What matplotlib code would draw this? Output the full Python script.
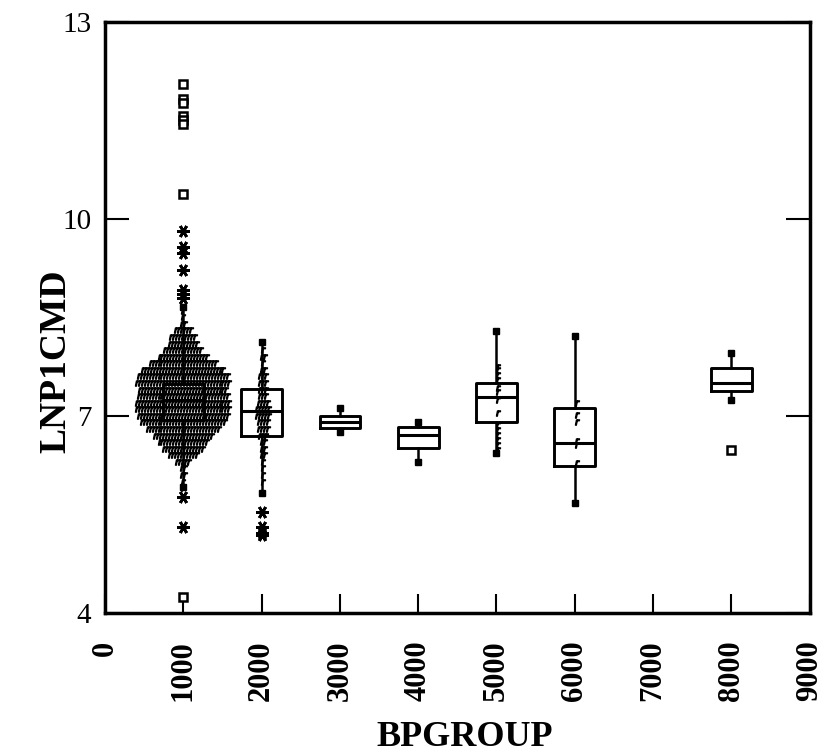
import numpy as np
import matplotlib
matplotlib.use("Agg")
import matplotlib.pyplot as plt

# ---- data -------------------------------------------------------------
groups = [1000, 2000, 3000, 4000, 5000, 6000, 8000]

# box statistics per group: (q1, median, q3, lower whisker, upper whisker)
q1 = [6.94, 6.70, 6.82, 6.51, 6.91, 6.23, 7.385]
med = [7.24, 7.08, 6.91, 6.71, 7.285, 6.585, 7.50]
q3 = [7.48, 7.41, 7.005, 6.83, 7.50, 7.12, 7.727]
whis_lo = [5.92, 5.83, 6.76, 6.30, 6.43, 5.67, 7.244]
whis_hi = [8.65, 8.13, 7.12, 6.90, 8.295, 8.21, 7.955]

# outside values (asterisks) and far-outside values (squares)
outside_x = [1000] * 9 + [2000] * 4
outside_y = [9.82, 9.57, 9.48, 9.22, 8.92, 8.85, 8.80, 5.77, 5.31,
             5.54, 5.31, 5.22, 5.19]
far_x = [1000] * 8 + [8000]
far_y = [12.06, 11.82, 11.77, 11.57, 11.50, 11.45, 10.38, 4.24, 6.48]

# dot-density rows: level and number of cases at that level
rows_1000_y = [8.6, 8.5, 8.4, 8.3, 8.2, 8.1, 8.0, 7.9, 7.8, 7.7, 7.6, 7.5,
               7.4, 7.3, 7.2, 7.1, 7.0, 6.9, 6.8, 6.7, 6.6, 6.5, 6.4, 6.3,
               6.2, 6.1, 6.0, 5.9]
rows_1000_n = [1, 1, 2, 6, 9, 10, 13, 17, 23, 28, 31, 32, 30, 31, 32, 32,
               31, 29, 25, 20, 17, 14, 10, 5, 2, 2, 1, 1]
rows_2000_y = [8.0, 7.9, 7.8, 7.7, 7.6, 7.5, 7.4, 7.3, 7.2, 7.1, 7.0, 6.9,
               6.8, 6.7, 6.6, 6.5, 6.4, 6.3, 6.2, 6.1, 6.0]
rows_2000_n = [1, 2, 1, 2, 3, 3, 3, 3, 4, 5, 5, 4, 4, 3, 2, 2, 2, 1, 1, 1, 1]
pts_5000 = [7.75, 7.70, 7.62, 7.55, 7.43, 7.37, 7.24, 7.05, 6.86, 6.79,
            6.71, 6.63, 6.56, 6.48]
pts_6000 = [7.20, 7.01, 6.91, 6.61, 6.56, 6.28]

x_ticks = [0, 1000, 2000, 3000, 4000, 5000, 6000, 7000, 8000, 9000]
y_ticks = [4, 7, 10, 13]

# ---- figure -----------------------------------------------------------
plt.rcParams["font.family"] = ["Liberation Serif", "DejaVu Serif"]
fig = plt.figure(figsize=(8.27, 7.52), dpi=100)
ax = fig.add_axes([0.127, 0.185, 0.852, 0.786])

BOX_W = 520
stats = []
for i, g in enumerate(groups):
    stats.append(dict(med=med[i], q1=q1[i], q3=q3[i], whislo=whis_lo[i],
                      whishi=whis_hi[i], fliers=[]))
ax.bxp(stats, positions=groups, widths=BOX_W, showcaps=False,
       showfliers=False, manage_ticks=False,
       boxprops=dict(color="black", linewidth=2.1),
       medianprops=dict(color="black", linewidth=2.2),
       whiskerprops=dict(color="black", linewidth=1.8), zorder=2)

# whisker end points
for i, g in enumerate(groups):
    ax.plot([g, g], [whis_lo[i], whis_hi[i]], ls="none", marker="s",
            ms=4.2, color="black", zorder=3)

# dot-density display of individual cases
DOT_DX = 38
DOT_MS = 3.8


def draw_rows(center, levels, counts, shift=0.0):
    xs, ys = [], []
    for lev, n in zip(levels, counts):
        offs = (np.arange(n) - (n - 1) / 2.0) * DOT_DX + shift
        xs.extend(center + offs)
        ys.extend([lev] * n)
    ax.plot(xs, ys, ls="none", marker="$r$", ms=DOT_MS, color="black",
            mew=1.0, zorder=4)


draw_rows(1000, rows_1000_y, rows_1000_n)
draw_rows(2000, rows_2000_y, rows_2000_n, shift=20)
ax.plot([5000 + 25] * len(pts_5000), pts_5000, ls="none", marker="$r$",
        ms=DOT_MS, mew=1.0, color="black", zorder=4)
ax.plot([6000 + 25] * len(pts_6000), pts_6000, ls="none", marker="$r$",
        ms=DOT_MS, mew=1.0, color="black", zorder=4)

# outside and far-outside values
ax.plot(outside_x, outside_y, ls="none", marker=(6, 2, 90), ms=9,
        mew=2.0, color="black", zorder=5)
ax.plot(far_x, far_y, ls="none", marker="s", ms=6, mfc="white",
        mec="black", mew=1.8, zorder=5)

# ---- axes styling -----------------------------------------------------
ax.set_xlim(0, 9000)
ax.set_ylim(4, 13)
for sp in ax.spines.values():
    sp.set_linewidth(2.5)

ax.set_xticks(x_ticks)
ax.set_xticklabels([str(t) for t in x_ticks], rotation=90,
                   fontsize=22, fontweight="bold")
ax.set_yticks(y_ticks)
ax.set_yticklabels([str(t) for t in y_ticks], fontsize=21)
ax.tick_params(axis="x", direction="in", length=14, width=1.5, pad=20,
               top=False)
ax.tick_params(axis="y", direction="in", length=17, width=1.5, pad=10,
               right=True)

ax.set_xlabel("BPGROUP", fontsize=26, fontweight="bold")
ax.xaxis.set_label_coords(0.511, -0.21)
ax.xaxis.label.set_va("center")
ax.set_ylabel("LNP1CMD", fontsize=27, fontweight="bold")
ax.yaxis.set_label_coords(-0.07, 0.425)
ax.yaxis.label.set_va("center")

fig.savefig("out.png", dpi=100)
